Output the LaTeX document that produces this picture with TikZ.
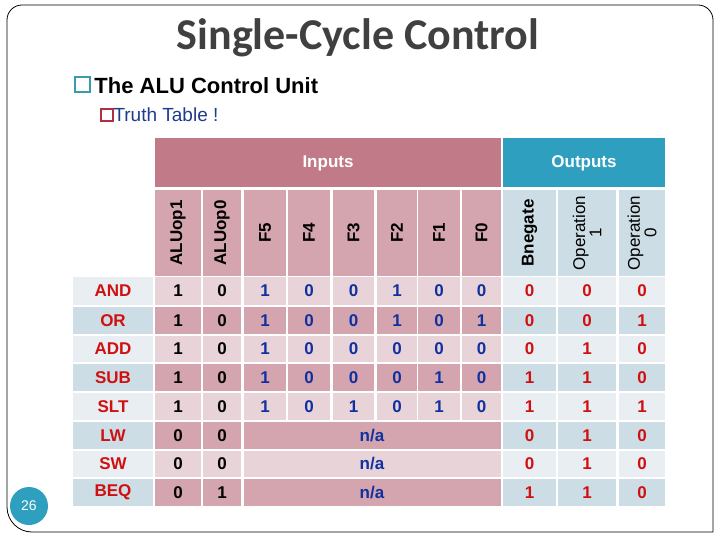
\documentclass[tikz,border=0pt]{standalone}
\usepackage{fontspec}
\setmainfont{Liberation Sans}
\newfontfamily\titlefont{Carlito}
\definecolor{inhdr}{HTML}{C07A88}
\definecolor{inpb}{HTML}{D4A5AE}
\definecolor{inpa}{HTML}{E8D3D8}
\definecolor{lbla}{HTML}{E9EEF2}
\definecolor{lblb}{HTML}{CCDDE5}
\definecolor{outa}{HTML}{E9EEF2}
\definecolor{outb}{HTML}{CCDDE5}
\definecolor{outhdr}{HTML}{2E9FBF}
\definecolor{redt}{HTML}{D01010}
\definecolor{bluet}{HTML}{1030A0}
\definecolor{titlec}{HTML}{404040}
\definecolor{subblue}{HTML}{1F3B8C}
\definecolor{sqteal}{HTML}{3A9AAE}
\definecolor{sqred}{HTML}{B03040}
\tikzset{
  cell/.style={font=\fontsize{17}{19}\selectfont\bfseries, inner sep=0pt},
  vhead/.style={rotate=90, font=\fontsize{17}{15}\selectfont\bfseries, inner sep=0pt, align=center},
  vheadn/.style={rotate=90, font=\fontsize{17}{15}\selectfont, inner sep=0pt, align=center},
}
\def\XL{{155,203,244,288,333,377,418,462,503,558,619}}
\def\XR{{201,241,286,330,374,417,460,501,556,616,665}}
\def\nn{n}
\begin{document}
\begin{tikzpicture}[x=1pt,y=-1pt]
\useasboundingbox (0,0) rectangle (720,540);
\draw[line width=0.8pt] (713,532) [rounded corners=25] -- (7,532) [rounded corners=15] -- (7,5) -- (713,5) [sharp corners] -- (713,532);
\node[text=titlec, font=\titlefont\fontsize{44}{48}\selectfont\bfseries] (title) at (358,38) {Single-Cycle Control};
\node[anchor=west, font=\fontsize{22}{24}\selectfont\bfseries, inner sep=0pt] (b1) at (74,85) {\textcolor{sqteal}{\fontfamily{cmr}\selectfont\raisebox{0.5pt}{\tikz[x=1pt,y=1pt]\draw[sqteal,line width=1.6pt] (0,0) rectangle (15,15);}}\,The ALU Control Unit};
\node[anchor=west, font=\fontsize{19}{21}\selectfont, inner sep=0pt, text=subblue] (b2) at (100,115) {\tikz[x=1pt,y=1pt]\draw[sqred,line width=1.3pt] (0,0) rectangle (12,12);Truth Table !};
% headers
\fill[inhdr] (155,138) rectangle (501,187);
\node[text=white, font=\fontsize{17}{19}\selectfont\bfseries] (inputs) at (328,163) {Inputs};
\fill[outhdr] (503,138) rectangle (665,187);
\node[text=white, font=\fontsize{17}{19}\selectfont\bfseries] (outputs) at (584,163) {Outputs};
\foreach \h [count=\i] in {ALUop1,ALUop0,F5,F4,F3,F2,F1,F0,Bnegate} {
  \pgfmathsetmacro\xl{\XL[\i-1]}\pgfmathsetmacro\xr{\XR[\i-1]}
  \ifnum\i<10 \def\fc{inpb}\else\def\fc{outb}\fi
  \ifnum\i=9 \def\fc{outb}\fi
  \fill[\fc] (\xl,190) rectangle (\xr,276);
  \node[vhead] (h\i) at ({(\xl+\xr)/2},233) {\h};
}
\fill[outb] (558,190) rectangle (616,276);
\node[vheadn] (h10) at (587,233) {Operation\\1};
\fill[outb] (619,190) rectangle (665,276);
\node[vheadn] (h11) at (642,233) {Operation\\0};
% rows
\foreach \t/\bt/\lab/\vals/\sh [count=\r] in {
 277/305/AND/{1,0,1,0,0,1,0,0,0,0,0}/a,
 307/334/OR/{1,0,1,0,0,1,0,1,0,0,1}/b,
 336/362/ADD/{1,0,1,0,0,0,0,0,0,1,0}/a,
 364/391/SUB/{1,0,1,0,0,0,1,0,1,1,0}/b,
 393/420/SLT/{1,0,1,0,1,0,1,0,1,1,1}/a,
 422/449/LW/{0,0,n,n,n,n,n,n,0,1,0}/b,
 451/477/SW/{0,0,n,n,n,n,n,n,0,1,0}/a,
 479/506/BEQ/{0,1,n,n,n,n,n,n,1,1,0}/b} {
  \fill[lbl\sh] (73,\t) rectangle (153,\bt);
  \node[cell, text=redt] (l\r) at (113,{(\t+\bt)/2}) {\lab};
  \foreach \v [count=\i] in \vals {
    \pgfmathsetmacro\xl{\XL[\i-1]}\pgfmathsetmacro\xr{\XR[\i-1]}
    \edef\vv{\v}
    \ifx\vv\nn\else
      \ifnum\i<9 \def\fc{inp\sh}\else\def\fc{out\sh}\fi
      \ifnum\i<3 \def\tc{black}\else\ifnum\i<9 \def\tc{bluet}\else\def\tc{redt}\fi\fi
      \fill[\fc] (\xl,\t) rectangle (\xr,\bt);
      \node[cell, text=\tc] (c\r-\i) at ({(\xl+\xr)/2},{(\t+\bt)/2}) {\v};
    \fi
  }
  \ifnum\r>5
    \fill[inp\sh] (244,\t) rectangle (501,\bt);
    \node[cell, text=bluet] (na\r) at (372,{(\t+\bt)/2}) {n/a};
  \fi
}
% slide number
\fill[outhdr] (29,506) circle (19);
\node[text=white, font=\fontsize{14}{16}\selectfont] (num) at (29,506) {26};
\end{tikzpicture}
\end{document}
